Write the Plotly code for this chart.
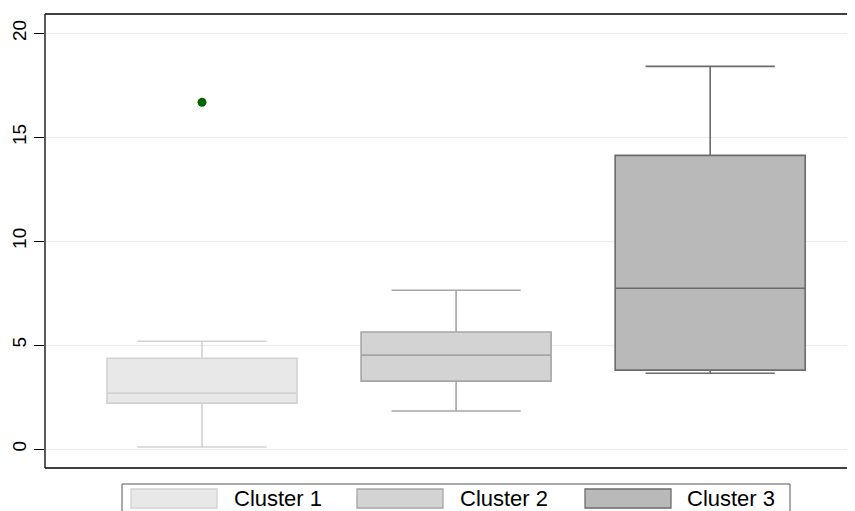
import plotly.graph_objects as go

# ---- data ----
clusters = ["Cluster 1", "Cluster 2", "Cluster 3"]
lower_whisker = [0.10, 1.83, 3.65]
q1_vals = [2.21, 3.27, 3.80]
median_vals = [2.69, 4.52, 7.74]
q3_vals = [4.37, 5.63, 14.13]
upper_whisker = [5.19, 7.64, 18.41]
outlier_cluster = [0]
outlier_values = [16.68]
y_ticks = [0, 5, 10, 15, 20]

fills = ["#e8e8e8", "#d3d3d3", "#b9b9b9"]
lines = ["#d2d2d2", "#a6a6a6", "#6b6b6b"]

# page body has an 8px default margin, so the figure is shifted by 8px
OFF = 8
W, H = 855 - OFF, 511 - OFF
L, T, B = 45 - OFF, 14 - OFF, 43
plot_w = W - L
plot_h = H - T - B

FONT = "Liberation Sans, Arial, sans-serif"

fig = go.Figure()
for i, name in enumerate(clusters):
    fig.add_trace(go.Box(
        x=[i], q1=[q1_vals[i]], median=[median_vals[i]], q3=[q3_vals[i]],
        lowerfence=[lower_whisker[i]], upperfence=[upper_whisker[i]],
        name=name, width=0.748, whiskerwidth=0.68,
        fillcolor=fills[i], line=dict(color=lines[i], width=1.6),
        boxpoints=False, showlegend=False, hoverinfo="skip",
    ))

fig.add_trace(go.Scatter(
    x=outlier_cluster, y=outlier_values, mode="markers",
    marker=dict(color="#006400", size=9), showlegend=False,
))

shapes = []
shapes.append(dict(type="line", xref="paper", yref="paper", x0=0, x1=0, y0=0, y1=1,
                   line=dict(color="black", width=1.3)))
shapes.append(dict(type="line", xref="paper", yref="paper", x0=0, x1=1.02, y0=1, y1=1,
                   line=dict(color="black", width=1.3)))
shapes.append(dict(type="line", xref="paper", yref="paper", x0=0, x1=1.02, y0=0, y1=0,
                   line=dict(color="black", width=1.3)))


def px_x(p):
    # p is a reference-pixel x coordinate
    return (p - OFF - L) / plot_w


def px_y(p):
    return (H - B - (p - OFF)) / plot_h


shapes.append(dict(type="rect", xref="paper", yref="paper",
                   x0=px_x(122), x1=px_x(790), y0=px_y(525), y1=px_y(484),
                   line=dict(color="#555555", width=1), fillcolor="white", layer="below"))
swatch_x = [131, 357, 585]
text_x = [232, 458, 685]
annotations = []
for i, name in enumerate(clusters):
    shapes.append(dict(type="rect", xref="paper", yref="paper",
                       x0=px_x(swatch_x[i]), x1=px_x(swatch_x[i] + 86),
                       y0=px_y(508), y1=px_y(489),
                       line=dict(color=lines[i], width=1.3), fillcolor=fills[i]))
    annotations.append(dict(text=name, xref="paper", yref="paper",
                            x=px_x(text_x[i]), y=px_y(498.5), xanchor="left", yanchor="middle",
                            showarrow=False, font=dict(size=22, color="black", family=FONT)))

fig.update_layout(
    width=W, height=H,
    margin=dict(l=L, r=0, t=T, b=B, autoexpand=False),
    paper_bgcolor="white", plot_bgcolor="white",
    shapes=shapes, annotations=annotations,
    xaxis=dict(range=[-0.618, 2.57], showticklabels=False, showgrid=False,
               zeroline=False, showline=False, ticks="", automargin=False),
    yaxis=dict(range=[-0.91, 20.93], tickvals=y_ticks, ticktext=[str(v) for v in y_ticks],
               tickangle=-90, ticks="outside", ticklen=10, tickcolor="black",
               showgrid=True, gridcolor="#ebebeb", gridwidth=1.2, zeroline=False,
               showline=False, automargin=False,
               tickfont=dict(size=19, color="black", family=FONT)),
    showlegend=False,
)

fig.write_html("out.html")
